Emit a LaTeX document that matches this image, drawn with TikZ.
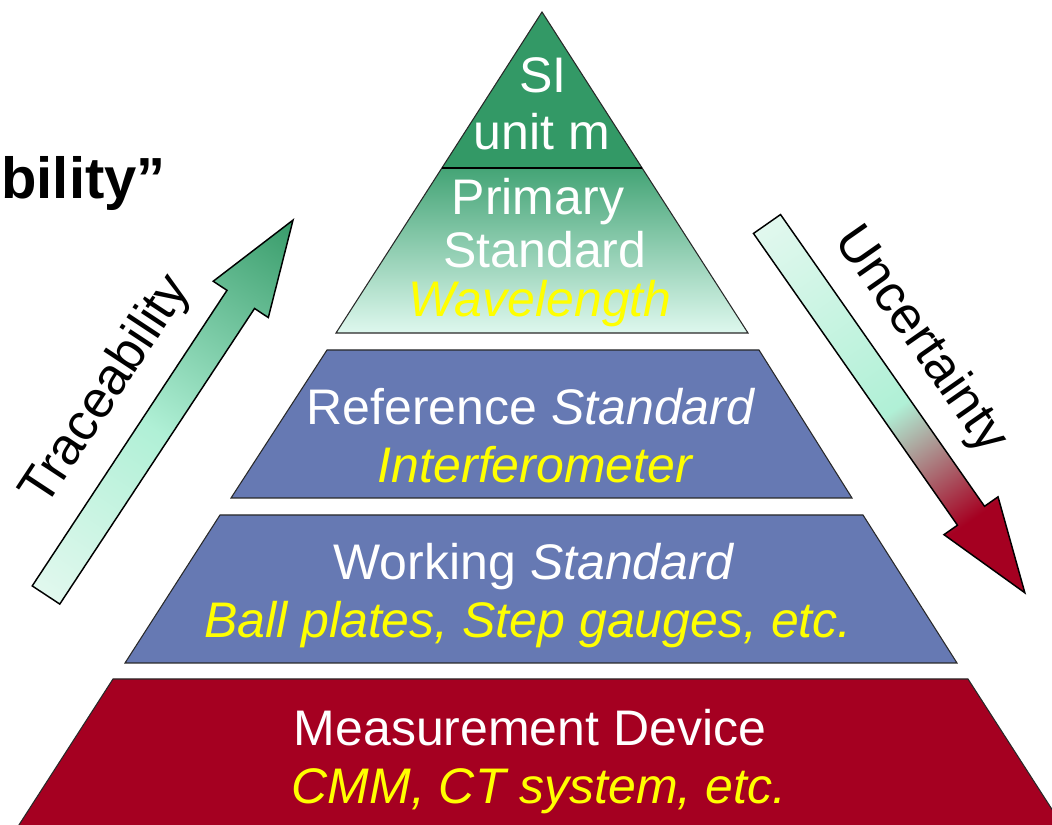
\documentclass[tikz,border=0pt]{standalone}
\usepackage{fontspec}
\setmainfont{Liberation Sans}

\definecolor{siGreen}{RGB}{51,153,102}
\definecolor{primTop}{RGB}{68,164,118}
\definecolor{primBot}{RGB}{222,248,238}
\definecolor{tierBlue}{RGB}{102,121,179}
\definecolor{tierRed}{RGB}{165,0,33}
\definecolor{mintLight}{RGB}{225,248,238}
\definecolor{mintMid}{RGB}{176,240,214}
\definecolor{arrowGreen}{RGB}{55,155,105}
\definecolor{labelYellow}{RGB}{255,255,0}
\definecolor{edgeGray}{RGB}{40,40,40}

% shadings along the arrow axis (the path box spans 25bp..75bp)
\pgfdeclarehorizontalshading{traceshade}{100bp}{color(0bp)=(mintLight); color(25bp)=(mintLight); color(47bp)=(mintMid); color(75bp)=(arrowGreen); color(100bp)=(arrowGreen)}
\pgfdeclarehorizontalshading{uncshade}{100bp}{color(0bp)=(mintLight); color(25bp)=(mintLight); color(50bp)=(mintMid); color(65bp)=(tierRed); color(100bp)=(tierRed)}

\tikzset{
  tierline/.style={draw=edgeGray, line width=0.8pt},
  mainText/.style={font=\fontsize{37.5}{45}\selectfont, text=white, inner sep=0pt, anchor=base},
  subText/.style={font=\fontsize{37.5}{45}\selectfont\itshape, text=labelYellow, inner sep=0pt, anchor=base},
  arrowLabel/.style={font=\fontsize{39}{46}\selectfont, text=black, inner sep=0pt},
  arrowline/.style={draw=black, line width=1.1pt, line join=miter},
}

\begin{document}
\begin{tikzpicture}[x=0.75pt, y=0.75pt]
\useasboundingbox (0,0) rectangle (1052,824);
\clip (0,0) rectangle (1052,824);

% title fragment
\node[anchor=base east, font=\fontsize{43.5}{50}\selectfont\bfseries, inner sep=0pt] (title) at (166,625) {bility”};

% top of the pyramid: SI unit and primary standard
\fill[siGreen] (542,812) -- (441.9,656) -- (642.1,656) -- cycle;
\shade[top color=primTop, bottom color=primBot] (441.9,656) -- (336,491) -- (748,491) -- (642.1,656) -- cycle;
\draw[tierline] (542,812) -- (336,491) -- (748,491) -- cycle;
\draw[line width=2.2pt, black] (441.9,656) -- (642.1,656);

\node[mainText] (siA) at (543,731) {SI};
\node[mainText] (siB) at (542,674) {unit m};
\node[mainText] (primA) at (538,609) {Primary};
\node[mainText] (primB) at (545,556) {Standard};
\node[subText] (primC) at (540,507) {Wavelength};

% reference standard
\fill[tierBlue] (327,474) -- (759,474) -- (852,326) -- (231,326) -- cycle;
\draw[tierline] (327,474) -- (759,474) -- (852,326) -- (231,326) -- cycle;
\node[mainText] (refA) at (531,399) {Reference \textit{Standard}};
\node[subText] (refB) at (535,341) {Interferometer};

% working standard
\fill[tierBlue] (220,309) -- (863,309) -- (957,161) -- (125,161) -- cycle;
\draw[tierline] (220,309) -- (863,309) -- (957,161) -- (125,161) -- cycle;
\node[mainText] (workA) at (534,244) {Working \textit{Standard}};
\node[subText] (workB) at (528,186) {Ball plates, Step gauges, etc.};

% measurement device
\fill[tierRed] (113,145) -- (968,145) -- (1064,-4) -- (17,-4) -- cycle;
\draw[tierline] (17,-4) -- (113,145) -- (968,145) -- (1064,-4);
\node[mainText] (measA) at (530,79) {Measurement Device};
\node[subText] (measB) at (539,21) {CMM, CT system, etc.};

% traceability arrow, pointing up to the top
\begin{scope}[transform canvas={shift={(46,229)}, rotate=56.62}]
  \shadedraw[shading=traceshade, arrowline] (0,-16.5) -- (354,-16.5) -- (354,-33) -- (449,0) -- (354,33) -- (354,16.5) -- (0,16.5) -- cycle;
  \node[arrowLabel] (traceLabel) at (204,61) {Traceability};
\end{scope}

% uncertainty arrow, pointing down to the base
\begin{scope}[transform canvas={shift={(767,600)}, rotate=-55.04}]
  \shadedraw[shading=uncshade, arrowline] (0,-16.5) -- (356,-16.5) -- (356,-33) -- (450,0) -- (356,33) -- (356,16.5) -- (0,16.5) -- cycle;
  \node[arrowLabel] (uncLabel) at (183,59) {Uncertainty};
\end{scope}
\end{tikzpicture}
\end{document}
